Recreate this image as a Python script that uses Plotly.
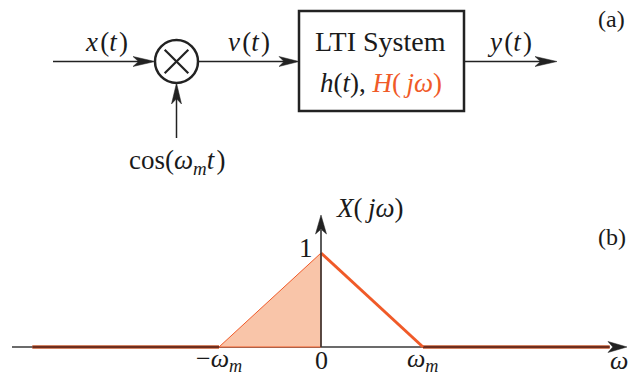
import plotly.graph_objects as go

W, H = 629, 375

# ---------------- data (spectrum) ----------------
omega = [-2.83, -1.0, 0.0, 1.0, 2.83]      # in units of omega_m
X_mag = [0.0, 0.0, 1.0, 0.0, 0.0]
tick_vals = [-1.0, 0.0, 1.0]
tick_text = ['−<i>ω<sub>m</sub></i>', '0', '<i>ω<sub>m</sub></i>']
peak_label = '1'

FONT = "Liberation Serif"
BLACK = "#1a1a1a"
LINE = "#222222"
ORANGE = "#f05a28"
SALMON = "#f9c5a9"
BROWN = "#6e2e1e"

# pixel -> data mapping for the spectrum axis (margins 0, full domain)
x0_px, sx = 321.0, 102.0   # pixel of omega=0, px per omega_m
y0_px, sy = 347.0, 94.0    # pixel of X=0, px per unit
xr = [(0 - x0_px) / sx, (W - x0_px) / sx]
yr = [(y0_px - H) / sy, (y0_px - 0) / sy]

def P(px, py):
    return px / W, 1 - py / H

def D(px, py):
    return (px - x0_px) / sx, (y0_px - py) / sy

fig = go.Figure()

# filled left half of triangle
fig.add_trace(go.Scatter(
    x=[omega[1], omega[2], omega[2], omega[1]],
    y=[X_mag[1], X_mag[2], 0, X_mag[1]],
    fill='toself', fillcolor=SALMON, mode='lines',
    line=dict(color=ORANGE, width=1), hoverinfo='skip', showlegend=False))
# flat parts (orange under dark axis overlay)
for sl in (slice(0, 2), slice(3, 5)):
    fig.add_trace(go.Scatter(x=omega[sl], y=X_mag[sl], mode='lines',
        line=dict(color='#f4a27e', width=4), hoverinfo='skip', showlegend=False))
    fig.add_trace(go.Scatter(x=omega[sl], y=X_mag[sl], mode='lines',
        line=dict(color=BROWN, width=2.4), hoverinfo='skip', showlegend=False))
# right slope
fig.add_trace(go.Scatter(x=omega[2:4], y=X_mag[2:4], mode='lines',
    line=dict(color=ORANGE, width=3), hoverinfo='skip', showlegend=False))

shapes = []
annotations = []

def pline(a, b, width=1.5, color=LINE):
    (x0, y0), (x1, y1) = P(*a), P(*b)
    shapes.append(dict(type='line', xref='paper', yref='paper', x0=x0, y0=y0,
                       x1=x1, y1=y1, line=dict(color=color, width=width)))

def parrow(tip, direction, length=20, half=5, color=LINE):
    tx, ty = tip
    dx, dy = direction
    bx, by = tx - dx * length, ty - dy * length
    nx, ny = -dy, dx
    pts = [(tx, ty), (bx + nx * half, by + ny * half),
           (tx - dx * length * 0.75, ty - dy * length * 0.75),
           (bx - nx * half, by - ny * half)]
    pp = [P(*p) for p in pts]
    path = 'M ' + ' L '.join(f'{x:.5f},{y:.5f}' for x, y in pp) + ' Z'
    shapes.append(dict(type='path', xref='paper', yref='paper', path=path,
                       fillcolor=color, line=dict(color=color, width=0.5)))

def ptext(px, py, text, size=27, color=BLACK):
    x, y = P(px, py)
    annotations.append(dict(xref='paper', yref='paper', x=x, y=y, text=text,
                            showarrow=False, xanchor='center', yanchor='middle',
                            font=dict(family=FONT, size=size, color=color)))

TS = '\u2009'  # thin space for math-like spacing
HS = '\u200a'  # hair space

# ---------------- block diagram (a) ----------------
yl = 61.5
cx, cy, r = 176.5, 61.5, 21.5
pline((53, yl), (cx - r - 10, yl))
parrow((cx - r, yl), (1, 0), length=22, half=5)
(x0, y0), (x1, y1) = P(cx - r, cy - r), P(cx + r, cy + r)
shapes.append(dict(type='circle', xref='paper', yref='paper', x0=x0, y0=y0,
                   x1=x1, y1=y1, line=dict(color=LINE, width=2.5)))
d = r * 0.55
pline((cx - d, cy - d), (cx + d, cy + d), width=2.2)
pline((cx - d, cy + d), (cx + d, cy - d), width=2.2)
pline((cx, 138), (cx, cy + r + 10))
parrow((cx, cy + r), (0, -1), length=21, half=5)
pline((cx + r, yl), (288, yl))
parrow((299, yl), (1, 0), length=20, half=5)
(bx0, by0), (bx1, by1) = P(299, 11), P(464, 111)
shapes.append(dict(type='rect', xref='paper', yref='paper', x0=bx0, y0=by1,
                   x1=bx1, y1=by0, line=dict(color=LINE, width=2.5)))
pline((464, yl), (545, yl))
parrow((557, yl), (1, 0), length=22, half=5)

ptext(106, 42, '<i>x</i>' + HS + '(<i>t</i>' + HS + ')')
ptext(249, 42, '<i>v</i>' + HS + '(<i>t</i>' + HS + ')')
ptext(509, 42, '<i>y</i>' + HS + '(<i>t</i>' + HS + ')')
ptext(177, 162, 'cos(<i>ω<sub>m</sub>t</i>' + HS + ')')
ptext(381, 42, 'LTI System', size=28)
ptext(381, 83, '<i>h</i>(<i>t</i>), <span style="color:%s"><i>H</i>(' % ORANGE
      + TS + '<i>jω</i>)</span>', size=27)
ptext(611, 19, '(a)', size=24)

# ---------------- spectrum axes (b) ----------------
ax_left, _ = D(12, 0)
ax_base, _ = D(610, 0)
shapes.append(dict(type='line', xref='x', yref='y', x0=ax_left, y0=0, x1=ax_base,
                   y1=0, line=dict(color='#3a3a3a', width=1.6), layer='below'))
parrow((627, y0_px), (1, 0), length=19, half=5.5)
_, vtop = D(0, 230)
shapes.append(dict(type='line', xref='x', yref='y', x0=0, y0=0, x1=0,
                   y1=vtop, line=dict(color='#333333', width=1.6), layer='above'))
parrow((x0_px, 215), (0, -1), length=19, half=5.5)

for v, t in zip(tick_vals, tick_text):
    annotations.append(dict(xref='x', yref='y', x=v, y=D(0, 360)[1], text=t,
                            showarrow=False, xanchor='center', yanchor='middle',
                            font=dict(family=FONT, size=26, color=BLACK)))
annotations.append(dict(xref='x', yref='y', x=D(306, 0)[0], y=max(X_mag) + 0.05,
                        text=peak_label, showarrow=False, xanchor='center',
                        yanchor='middle', font=dict(family=FONT, size=27, color=BLACK)))
ptext(369, 208, '<i>X</i>(' + TS + '<i>jω</i>)')
ptext(612, 237, '(b)', size=24)
ptext(619, 360, '<i>ω</i>', size=26)

fig.update_layout(
    width=W, height=H, margin=dict(l=0, r=0, t=0, b=0),
    paper_bgcolor='white', plot_bgcolor='white',
    xaxis=dict(range=xr, visible=False, fixedrange=True),
    yaxis=dict(range=yr, visible=False, fixedrange=True),
    shapes=shapes, annotations=annotations, showlegend=False,
)

fig.write_html("out.html", config={"displayModeBar": False},
               post_script="document.body.style.margin='0';document.body.style.overflow='hidden';")
